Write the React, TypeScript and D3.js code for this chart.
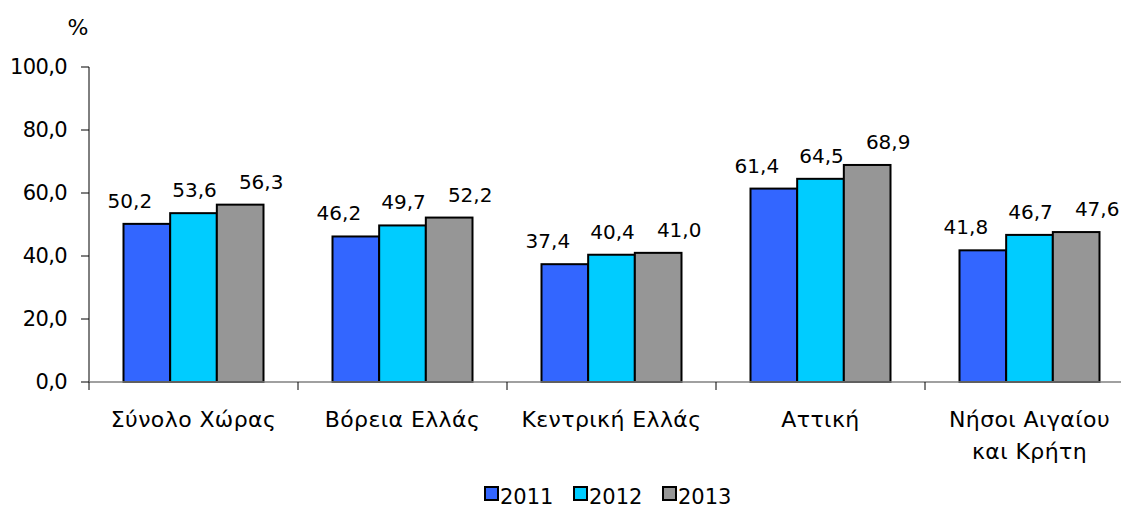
import React from "react";
import * as d3 from "d3";

const categories: string[][] = [
  ["Σύνολο Χώρας"],
  ["Βόρεια Ελλάς"],
  ["Κεντρική Ελλάς"],
  ["Αττική"],
  ["Νήσοι Αιγαίου", "και Κρήτη"],
];
const years = ["2011", "2012", "2013"];
const values2011 = [50.2, 46.2, 37.4, 61.4, 41.8];
const values2012 = [53.6, 49.7, 40.4, 64.5, 46.7];
const values2013 = [56.3, 52.2, 41.0, 68.9, 47.6];
const colors = ["#3366FF", "#00CCFF", "#969696"];
const yTicks = [0, 20, 40, 60, 80, 100];

const W = 1121;
const H = 508;
const FONT = "'DejaVu Sans', sans-serif";

export default function App() {
  const series = [values2011, values2012, values2013];
  const left = 89;
  const band = 209;
  const x0 = d3
    .scaleBand<number>()
    .domain(d3.range(categories.length))
    .range([left, left + band * categories.length])
    .paddingInner(0)
    .paddingOuter(0);
  const x1 = d3
    .scaleBand<number>()
    .domain(d3.range(years.length))
    .range([0, 140]);
  const groupOffset = (band - 140) / 2;
  const y = d3.scaleLinear().domain([0, 100]).range([382, 67]);
  const fmt = (v: number) => v.toFixed(1).replace(".", ",");
  const labelShift = [-17, 1, 21];

  return (
    <svg
      width={W}
      height={H}
      style={{ position: "absolute", left: 0, top: 0, background: "#fff" }}
      fontFamily={FONT}
    >
      <rect x={0} y={0} width={W} height={H} fill="#fff" />
      {/* % label */}
      <text x={78} y={35} fontSize={22} textAnchor="middle" fill="#000">
        %
      </text>
      {/* y axis */}
      <line x1={89} x2={89} y1={y(100)} y2={y(0)} stroke="#000" strokeWidth={1} />
      {yTicks.map((t) => (
        <g key={t}>
          <line x1={81} x2={89} y1={y(t)} y2={y(t)} stroke="#000" strokeWidth={1} />
          <text
            x={67}
            y={y(t) + 7}
            fontSize={21}
            letterSpacing={-0.6}
            textAnchor="end"
            fill="#000"
          >
            {fmt(t)}
          </text>
        </g>
      ))}
      {/* bars */}
      {categories.map((c, i) => (
        <g key={i} transform={`translate(${(x0(i) as number) + groupOffset},0)`}>
          {series.map((s, j) => {
            const bx = x1(j) as number;
            const bw = x1.bandwidth();
            return (
              <g key={j}>
                <rect
                  x={bx}
                  y={y(s[i])}
                  width={bw}
                  height={y(0) - y(s[i])}
                  fill={colors[j]}
                  stroke="#000"
                  strokeWidth={2}
                />
                <text
                  x={bx + bw / 2 + labelShift[j]}
                  y={y(s[i]) - 16}
                  fontSize={20}
                  textAnchor="middle"
                  fill="#000"
                >
                  {fmt(s[i])}
                </text>
              </g>
            );
          })}
        </g>
      ))}
      {/* x axis */}
      <line x1={89} x2={W} y1={382} y2={382} stroke="#808080" strokeWidth={1.5} />
      {d3.range(categories.length + 1).map((k) => (
        <line
          key={k}
          x1={left + band * k}
          x2={left + band * k}
          y1={382}
          y2={390}
          stroke="#000"
          strokeWidth={1}
        />
      ))}
      {categories.map((c, i) => (
        <text
          key={i}
          x={(x0(i) as number) + band / 2}
          y={427}
          fontSize={22}
          letterSpacing={0.4}
          textAnchor="middle"
          fill="#000"
        >
          {c.map((line, k) => (
            <tspan key={k} x={(x0(i) as number) + band / 2} dy={k === 0 ? 0 : 32}>
              {line}
            </tspan>
          ))}
        </text>
      ))}
      {/* legend */}
      {years.map((yr, j) => (
        <g key={yr} transform={`translate(${485 + j * 89},487)`}>
          <rect x={0} y={0} width={13} height={13} fill={colors[j]} stroke="#000" strokeWidth={2} />
          <text x={15} y={17} fontSize={21} fill="#000">
            {yr}
          </text>
        </g>
      ))}
    </svg>
  );
}
